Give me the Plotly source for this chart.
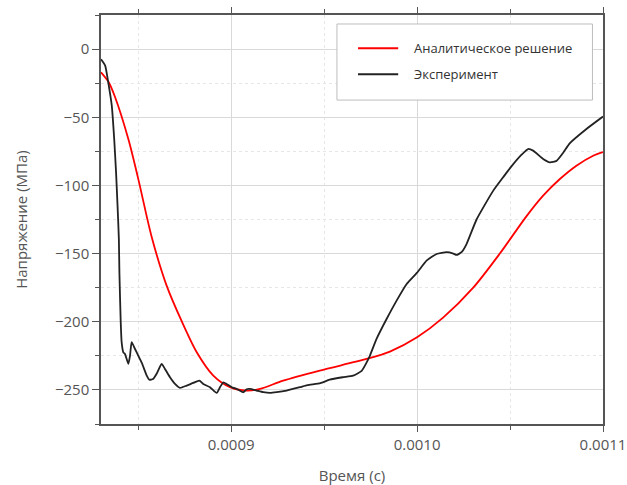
import plotly.graph_objects as go

# Analytical solution: time (s) and stress (MPa)
t_analytic = [0.00083, 0.000834, 0.0008375, 0.0008447, 0.00085, 0.0008573, 0.0008653,
              0.0008734, 0.0008815, 0.0008904, 0.0008994, 0.0009083, 0.0009155, 0.000928,
              0.0009477, 0.0009728, 0.0009854, 0.0010, 0.001014, 0.0010302, 0.0010445,
              0.0010589, 0.0010678, 0.0010768, 0.0010857, 0.0010947, 0.0011]
s_analytic = [-17, -24, -35, -66, -95, -138, -173.5,
              -199.6, -222.4, -239.5, -248, -250.5, -249.3, -243.2,
              -235.8, -227.3, -221.9, -211.4, -197, -175, -150,
              -122.5, -107.5, -95.3, -85.5, -78.2, -75.5]

# Measured stress
t_exp = [0.00083, 0.0008322, 0.0008339, 0.0008358, 0.0008371, 0.0008381, 0.0008389,
         0.0008396, 0.0008399, 0.0008406, 0.0008411, 0.000842, 0.0008429, 0.0008447,
         0.0008456, 0.0008465, 0.0008483, 0.0008501, 0.0008519, 0.0008546, 0.000856,
         0.000858, 0.00086, 0.0008626, 0.0008644, 0.0008671, 0.0008698, 0.0008725,
         0.0008761, 0.0008796, 0.0008829, 0.000885, 0.0008886, 0.0008922, 0.000894,
         0.0008958, 0.0008976, 0.0009003, 0.000903, 0.0009065, 0.0009083, 0.0009101,
         0.0009137, 0.0009173, 0.0009209, 0.0009245, 0.0009298, 0.000937, 0.000941,
         0.000948, 0.000953, 0.00096, 0.0009656, 0.0009702, 0.0009728, 0.0009746,
         0.0009782, 0.0009836, 0.000989, 0.0009944, 0.001, 0.0010051, 0.0010105,
         0.0010159, 0.0010195, 0.0010212, 0.0010239, 0.0010266, 0.001032, 0.0010409,
         0.0010463, 0.0010499, 0.0010562, 0.0010597, 0.0010624, 0.0010678, 0.0010714,
         0.001075, 0.0010786, 0.0010822, 0.0010911, 0.0011]
s_exp = [-7.5, -12, -24.4, -41.5, -66, -90.4, -115,
         -139, -164, -200, -215, -222.4, -223.6, -230.9,
         -225, -215, -220, -225, -230, -239.5, -242.5,
         -242, -238, -231, -234.6, -240.7, -245.6, -248.5,
         -246.8, -244.9, -243.2, -245.6, -248, -252.2, -248,
         -244.4, -245.6, -248, -249.3, -251.7, -249.5, -249.3,
         -250.5, -251.7, -252.2, -251.7, -250.5, -248, -246.5,
         -245, -242.5, -240.7, -239.5, -236, -230, -225,
         -212.6, -198, -184.5, -172.3, -164, -155.2, -150.3,
         -149, -150, -151, -149, -143, -125, -104,
         -94, -87.5, -77.5, -73.3, -74.5, -80.6, -83.1,
         -82, -76, -69, -58.6, -49.5]

x_ticks = [0.0009, 0.0010, 0.0011]
x_tick_text = ["0.0009", "0.0010", "0.0011"]
y_ticks = [0, -50, -100, -150, -200, -250]

legend_names = ["Аналитическое решение", "Эксперимент"]
colors = ["#ff0000", "#222222"]

fig = go.Figure()
fig.add_trace(go.Scatter(x=t_analytic, y=s_analytic, mode="lines", name=legend_names[0],
                         line=dict(color=colors[0], width=1.8, shape="spline", smoothing=0.8),
                         showlegend=False))
fig.add_trace(go.Scatter(x=t_exp, y=s_exp, mode="lines", name=legend_names[1],
                         line=dict(color=colors[1], width=1.8, shape="spline", smoothing=0.5),
                         showlegend=False))

# Legend box drawn in paper coordinates
fig.add_shape(type="rect", xref="paper", yref="paper", x0=0.470, x1=0.979, y0=0.792, y1=0.978,
              line=dict(color="#bdbdbd", width=1), fillcolor="white", layer="above")
for i, (name, col) in enumerate(zip(legend_names, colors)):
    yy = 0.919 - i * 0.064
    fig.add_shape(type="line", xref="paper", yref="paper", x0=0.512, x1=0.592, y0=yy, y1=yy,
                  line=dict(color=col, width=2), layer="above")
    fig.add_annotation(xref="paper", yref="paper", x=0.620, y=yy, text=name, showarrow=False,
                       xanchor="left", yanchor="middle",
                       font=dict(family="Open Sans", size=13, color="#333333"))

axis_font = dict(family="Open Sans", size=15, color="#555555")
title_font = dict(family="Open Sans", size=15, color="#555555")
fig.update_xaxes(range=[0.00083, 0.0011], tickvals=x_ticks, ticktext=x_tick_text,
                 ticks="outside", ticklen=6, tickwidth=1.2, tickcolor="#555555",
                 showline=True, linecolor="#555555", linewidth=1.5, mirror="allticks",
                 showgrid=True, gridcolor="#d9d9d9", gridwidth=1,
                 minor=dict(dtick=0.0001, tick0=0.00085, ticks="outside", ticklen=4,
                            tickcolor="#555555", showgrid=True, gridcolor="#e6e6e6",
                            griddash="dot"),
                 zeroline=False, tickfont=axis_font, automargin=False,
                 title=dict(text="Время (с)", font=title_font, standoff=18))
fig.update_yaxes(range=[-275, 25], tickvals=y_ticks,
                 ticks="outside", ticklen=7, tickwidth=1.2, tickcolor="#555555",
                 showline=True, linecolor="#555555", linewidth=1.5, mirror=True,
                 showgrid=True, gridcolor="#d9d9d9", gridwidth=1,
                 minor=dict(dtick=50, tick0=-25, ticks="outside", ticklen=4,
                            tickcolor="#555555", showgrid=True, gridcolor="#e6e6e6",
                            griddash="dot"),
                 zeroline=False, tickfont=axis_font, automargin=False,
                 title=dict(text="Напряжение (МПа)", font=title_font, standoff=24))
fig.update_layout(width=627, height=485, margin=dict(l=101, r=24, t=15, b=61),
                  paper_bgcolor="white", plot_bgcolor="white")
fig.write_html("out.html")
